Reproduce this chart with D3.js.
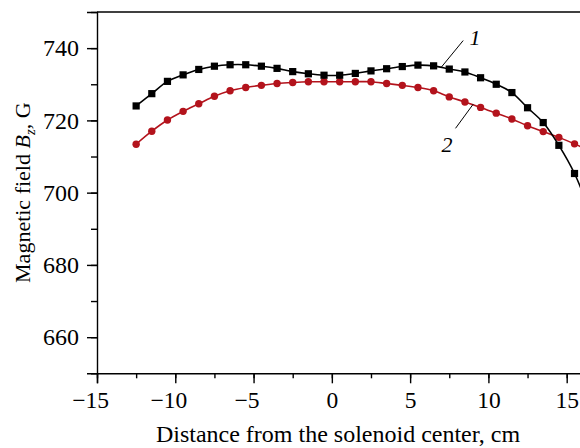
<!DOCTYPE html>
<html>
<head>
<meta charset="utf-8">
<script src="https://cdn.jsdelivr.net/npm/d3@7"></script>
<style>
  body { margin: 0; background: #fff; }
  svg { display: block; font-family: "Liberation Serif", "Times New Roman", serif; }
  .axis path, .axis line { stroke: #000; stroke-width: 1.4; }
</style>
</head>
<body>
<div id="container"></div>
<script>
// ---- data ----
var positions = [-12.5, -11.5, -10.5, -9.5, -8.5, -7.5, -6.5, -5.5, -4.5, -3.5,
                 -2.5, -1.5, -0.5, 0.5, 1.5, 2.5, 3.5, 4.5, 5.5, 6.5,
                 7.5, 8.5, 9.5, 10.5, 11.5, 12.5, 13.5, 14.5, 15.5, 16.5];
var field1 = [724.0, 727.4, 730.8, 732.6, 734.1, 735.0, 735.4, 735.4, 735.0, 734.4,
              733.5, 732.9, 732.5, 732.5, 733.0, 733.7, 734.3, 734.9, 735.3, 735.1,
              734.2, 733.4, 731.8, 730.0, 727.7, 723.5, 719.4, 713.1, 705.3, 694.5];
var field2 = [713.4, 717.0, 720.1, 722.5, 724.6, 726.7, 728.2, 729.1, 729.7, 730.2,
              730.5, 730.7, 730.7, 730.7, 730.7, 730.7, 730.2, 729.7, 729.1, 728.2,
              726.5, 725.1, 723.6, 722.0, 720.4, 718.5, 716.9, 715.3, 713.5, 711.5];
var xTicks = [-15, -10, -5, 0, 5, 10, 15];
var xMinor = [-15, -12.5, -10, -7.5, -5, -2.5, 0, 2.5, 5, 7.5, 10, 12.5, 15];
var yTicks = [660, 680, 700, 720, 740];
var yMinor = [650, 660, 670, 680, 690, 700, 710, 720, 730, 740, 750];

//----------------------------SETUP-----------------------------//
const width = 580;
const height = 448;
const mLeft = 97, mTop = 12, mBottom = 373.3, mRight = 598;
const serif = '"Liberation Serif", "Times New Roman", serif';

const svg = d3.select("div#container").append("svg")
    .attr("width", width)
    .attr("height", height);

const xScale = d3.scaleLinear().domain([-15, 17]).range([mLeft, mRight]);
const yScale = d3.scaleLinear().domain([650, 750]).range([mBottom, mTop]);

//-----------------------------AXES-----------------------------//
svg.append("g")
    .attr("class", "axis")
    .attr("transform", "translate(0," + mBottom + ")")
    .call(d3.axisBottom(xScale).tickValues(xMinor).tickSize(5).tickFormat(""))
    .select(".domain").remove();

const xg = svg.append("g")
    .attr("class", "axis")
    .attr("transform", "translate(0," + mBottom + ")")
    .call(d3.axisBottom(xScale).tickValues(xTicks).tickSizeOuter(0).tickSize(10).tickPadding(8)
        .tickFormat(function(d) { return d < 0 ? "\u2212" + Math.abs(d) : d; }));
xg.selectAll("text")
    .style("font-family", serif)
    .style("font-size", "23.5px")
    .attr("dx", function(d) { return d < 0 ? -7 : 0; });

svg.append("g")
    .attr("class", "axis")
    .attr("transform", "translate(" + mLeft + ",0)")
    .call(d3.axisLeft(yScale).tickValues(yMinor).tickSize(6).tickFormat(""))
    .select(".domain").remove();

const yg = svg.append("g")
    .attr("class", "axis")
    .attr("transform", "translate(" + mLeft + ",0)")
    .call(d3.axisLeft(yScale).tickValues(yTicks).tickSizeOuter(0).tickSize(10).tickPadding(8));
yg.selectAll("text")
    .style("font-family", serif)
    .style("font-size", "24px");

// top frame line
svg.append("line")
    .attr("x1", mLeft).attr("x2", mRight)
    .attr("y1", mTop).attr("y2", mTop)
    .attr("stroke", "#000").attr("stroke-width", 1.4);

//---------------------------LABELS-----------------------------//
svg.append("text")
    .attr("x", 338)
    .attr("y", 442)
    .attr("text-anchor", "middle")
    .style("font-size", "24px")
    .text("Distance from the solenoid center, cm");

const ylab = svg.append("text")
    .attr("transform", "translate(30," + ((mTop + mBottom) / 2) + ") rotate(-90)")
    .attr("text-anchor", "middle")
    .style("font-size", "22px");
ylab.append("tspan").text("Magnetic field ");
ylab.append("tspan").style("font-style", "italic").text("B");
ylab.append("tspan").style("font-style", "italic").style("font-size", "15px").attr("dy", 5).text("z");
ylab.append("tspan").attr("dy", -5).text(", G");

//----------------------------LINES-----------------------------//
const series = [
  {id: "1", values: field1, color: "#000000", shape: "square"},
  {id: "2", values: field2, color: "#b3131c", shape: "circle"}
];

const line = d3.line()
    .x(function(d, i) { return xScale(positions[i]); })
    .y(function(d) { return yScale(d); })
    .curve(d3.curveCatmullRom.alpha(0.5));

const plot = svg.append("g");

// draw red first, black on top
series.slice().reverse().forEach(function(s) {
  const g = plot.append("g");
  g.append("path")
      .attr("d", line(s.values))
      .attr("fill", "none")
      .attr("stroke", s.color)
      .attr("stroke-width", 1.6);
  if (s.shape === "square") {
    g.selectAll("rect")
      .data(s.values)
      .enter().append("rect")
      .attr("x", function(d, i) { return xScale(positions[i]) - 3.6; })
      .attr("y", function(d) { return yScale(d) - 3.6; })
      .attr("width", 7.2).attr("height", 7.2)
      .attr("fill", s.color);
  } else {
    g.selectAll("circle")
      .data(s.values)
      .enter().append("circle")
      .attr("cx", function(d, i) { return xScale(positions[i]); })
      .attr("cy", function(d) { return yScale(d); })
      .attr("r", 3.7)
      .attr("fill", s.color);
  }
});

//-------------------------ANNOTATIONS--------------------------//
const notes = [
  {label: "1", x1: 8.39, y1: 742.1, x2: 6.95, y2: 734.5, tx: 8.8, ty: 740.9},
  {label: "2", x1: 7.9, y1: 717.8, x2: 9.03, y2: 724.5, tx: 7.0, ty: 711.3}
];
notes.forEach(function(n) {
  svg.append("line")
      .attr("x1", xScale(n.x1)).attr("y1", yScale(n.y1))
      .attr("x2", xScale(n.x2)).attr("y2", yScale(n.y2))
      .attr("stroke", "#000").attr("stroke-width", 1);
  svg.append("text")
      .attr("x", xScale(n.tx)).attr("y", yScale(n.ty))
      .style("font-size", "22px")
      .style("font-style", "italic")
      .text(n.label);
});
</script>
</body>
</html>
